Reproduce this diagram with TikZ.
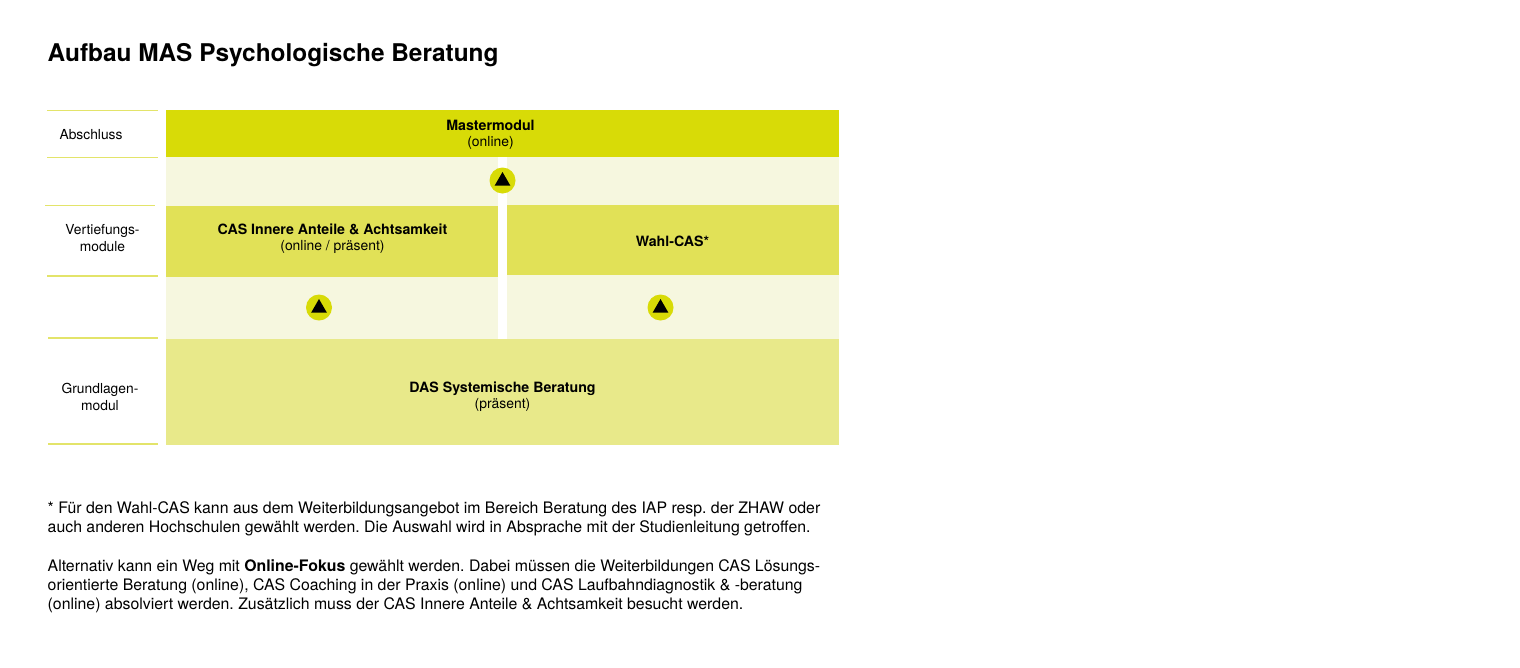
\documentclass[tikz,border=0pt]{standalone}
\usepackage{fontspec}
\setmainfont{TeX Gyre Heros}
\usetikzlibrary{shapes.geometric}
\definecolor{cDark}{HTML}{D8DB07}
\definecolor{cMid}{HTML}{E1E157}
\definecolor{cLight}{HTML}{E8E98A}
\definecolor{cPale}{HTML}{F6F7DF}
\definecolor{cRule}{HTML}{E3E46A}
\frenchspacing
\newcommand{\bt}[1]{{\fontsize{14.2}{16}\selectfont\bfseries #1}}
\tikzset{
  x=1pt,y=-1pt,
  band/.style={fill=#1,draw=none},
  rulel/.style={draw=cRule,line width=1.4pt},
  lbl/.style={inner sep=0pt,align=center,font=\fontsize{13.8}{17}\selectfont},
  boxt/.style={inner sep=0pt,align=center,font=\fontsize{13.9}{16}\selectfont},
  para/.style={inner sep=0pt,anchor=base west,font=\fontsize{15.85}{19}\selectfont},
  ttl/.style={inner sep=0pt,anchor=base west,font=\fontsize{24.4}{28}\selectfont\bfseries},
  badge/.style={circle,fill=#1,draw=none,inner sep=0pt,minimum size=26pt},
  tri/.style={regular polygon,regular polygon sides=3,fill=black,draw=none,inner sep=0pt,minimum size=18pt},
}
\begin{document}
\begin{tikzpicture}
\useasboundingbox[fill=white] (0,0) rectangle (1520,667);
\node[ttl] (title) at (47.5,61.5) {Aufbau MAS Psychologische Beratung};
% bands
\fill[band=cPale] (166,157) rectangle (498,206);
\fill[band=cPale] (507,157) rectangle (839,205);
\fill[band=cPale] (166,276.5) rectangle (498,339);
\fill[band=cPale] (507,275) rectangle (839,339);
\fill[band=cDark] (166,110) rectangle (839,157);
\fill[band=cMid] (166,206) rectangle (498,276.5);
\fill[band=cMid] (507,205) rectangle (839,275);
\fill[band=cLight] (166,339) rectangle (839,444.5);
% rules
\draw[rulel] (47,110.5) -- (157.5,110.5);
\draw[rulel] (47,157.5) -- (157.5,157.5);
\draw[rulel] (45,205.5) -- (155,205.5);
\draw[rulel] (47,276) -- (157.5,276);
\draw[rulel] (48,338) -- (158,338);
\draw[rulel] (48,444) -- (158,444);
% left labels
\node[lbl] (abschluss) at (91,134.3) {Abschluss};
\node[lbl] (vertiefung) at (102.5,238) {Vertiefungs-\\module};
\node[lbl] (grundlagen) at (100,397) {Grundlagen-\\modul};
% box texts
\node[boxt] (master) at (490.5,134.7) {\bt{Mastermodul}\\(online)};
\node[boxt] (cas) at (332.5,238.7) {\bt{CAS Innere Anteile \& Achtsamkeit}\\(online / präsent)};
\node[boxt] (wahl) at (672.5,241.5) {\bt{Wahl-CAS*}};
\node[boxt] (das) at (502.5,396.7) {\bt{DAS Systemische Beratung}\\(präsent)};
% badges
\node[badge=cDark] (b1) at (502.5,180.5) {};
\node[tri] (t1) at (502.5,181) {};
\node[badge=cDark] (b2) at (319,307.5) {};
\node[tri] (t2) at (319,308) {};
\node[badge=cDark] (b3) at (660.5,307.5) {};
\node[tri] (t3) at (660.5,308) {};
% notes
\node[para] (n1) at (47.5,513.5) {* Für den Wahl-CAS kann aus dem Weiterbildungsangebot im Bereich Beratung des IAP resp. der ZHAW oder};
\node[para] (n2) at (47.5,532.5) {auch anderen Hochschulen gewählt werden. Die Auswahl wird in Absprache mit der Studienleitung getroffen.};
\node[para] (n3) at (47.5,571.5) {Alternativ kann ein Weg mit \textbf{Online-Fokus} gewählt werden. Dabei müssen die Weiterbildungen CAS Lösungs-};
\node[para] (n4) at (47.5,590.5) {orientierte Beratung (online), CAS Coaching in der Praxis (online) und CAS Laufbahndiagnostik \& -beratung};
\node[para] (n5) at (47.5,609.5) {(online) absolviert werden. Zusätzlich muss der CAS Innere Anteile \& Achtsamkeit besucht werden.};
\end{tikzpicture}
\end{document}
